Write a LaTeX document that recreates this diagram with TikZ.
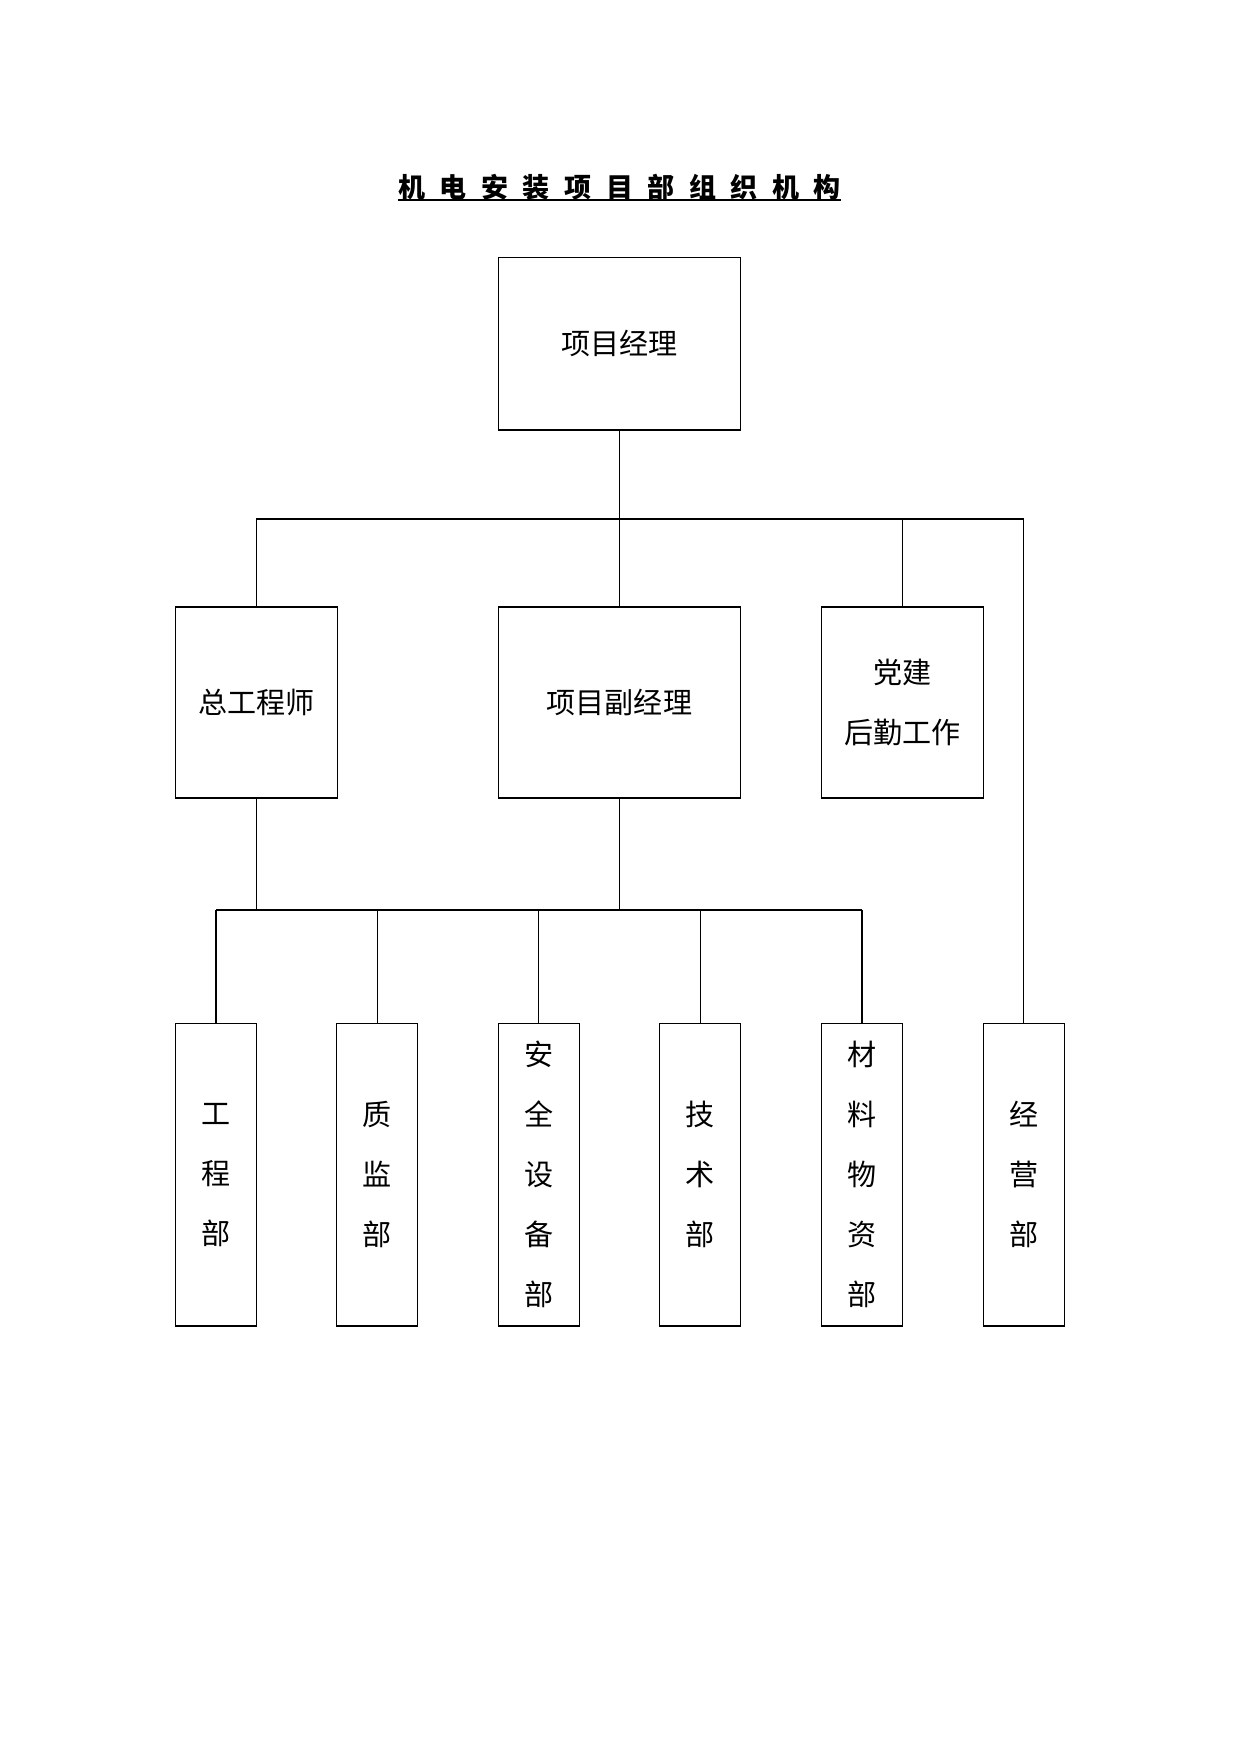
\documentclass[tikz,border=0pt]{standalone}
\usepackage{fontspec}
\newfontfamily\cjk{Noto Sans CJK SC}
\def\px{0.16922mm}
\def\ts{\hspace{2.47mm}}
\begin{document}
\begin{tikzpicture}[x=0.16922mm,y=-0.16922mm,
  box/.style={draw,line width=0.55pt,inner sep=0pt,align=center,
    font=\cjk\fontsize{14pt}{28.9pt}\selectfont},
  col/.style={box,minimum width=81*\px,minimum height=302.6*\px},
  wide/.style={box,minimum width=242.2*\px,minimum height=191*\px},
  narrow/.style={box,minimum width=161.8*\px,minimum height=191*\px},
  link/.style={line width=0.55pt},
  busline/.style={line width=1pt}]
\useasboundingbox (0,0) rectangle (1241,1754);
% title
\node[inner sep=0pt,font=\cjk\bfseries\fontsize{13pt}{13pt}\selectfont] (title) at (619.5,187)
  {机\ts 电\ts 安\ts 装\ts 项\ts 目\ts 部\ts 组\ts 织\ts 机\ts 构};
\coordinate (ul) at (0,200);
\draw[line width=1pt] (title.west |- ul) -- (title.east |- ul);
% boxes
\node[box,minimum width=242.2*\px,minimum height=172.8*\px] (pm) at (619.4,343.6) {项目经理};
\node[narrow] (zgcs) at (256.3,702.5) {总工程师};
\node[wide] (fjl) at (619.4,702.5) {项目副经理};
\node[narrow] (dj) at (902.5,702.5) {党建\\后勤工作};
\node[col] (gcb) at (216,1174.7) {工\\程\\部};
\node[col] (zjb) at (377.2,1174.7) {质\\监\\部};
\node[col] (aqsb) at (538.9,1174.7) {安\\全\\设\\备\\部};
\node[col] (jsb) at (700.3,1174.7) {技\\术\\部};
\node[col] (clwz) at (862,1174.7) {材\\料\\物\\资\\部};
\node[col] (jyb) at (1023.7,1174.7) {经\\营\\部};
% connectors
\coordinate (b1) at (0,518.8);
\coordinate (b2) at (0,910);
\draw[link] (pm.south) -- (fjl.north);
\draw[busline] (zgcs.north |- b1) -- (jyb.north |- b1);
\draw[link] (zgcs.north) -- (zgcs.north |- b1);
\draw[link] (dj.north) -- (dj.north |- b1);
\draw[link] (jyb.north) -- (jyb.north |- b1);
\draw[link] (zgcs.south) -- (zgcs.south |- b2);
\draw[link] (fjl.south) -- (fjl.south |- b2);
\draw[link] (gcb.north |- b2) -- (clwz.north |- b2);
\foreach \n in {gcb,zjb,aqsb,jsb,clwz}
  \draw[link] (\n.north) -- (\n.north |- b2);
\end{tikzpicture}
\end{document}
